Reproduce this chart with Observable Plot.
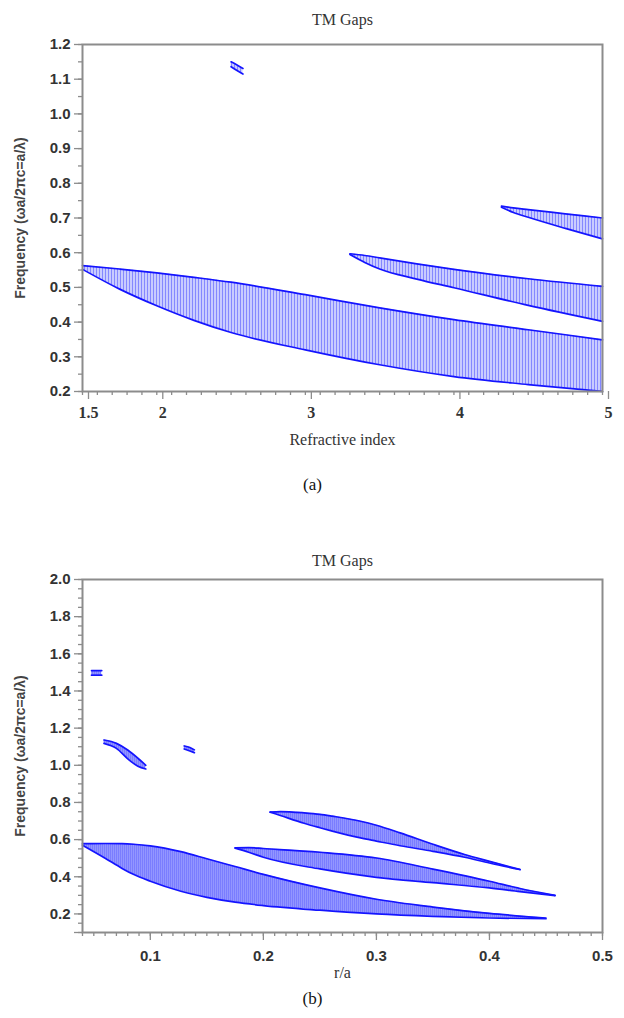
<!DOCTYPE html>
<html>
<head>
<meta charset="utf-8">
<script src="https://cdn.jsdelivr.net/npm/d3@7"></script>
<script src="https://cdn.jsdelivr.net/npm/@observablehq/plot@0.6"></script>
<style>
  html, body { margin: 0; padding: 0; background: #fff; }
  #wrap { width: 624px; }
  svg { display: block; }
</style>
</head>
<body>
<div id="wrap"></div>
<script>
// ---------- Chart (a): TM gaps vs refractive index ----------
const aTitle = "TM Gaps";
const aXLabel = "Refractive index";
const yLabel = "Frequency (\u03c9a/2\u03c0c=a/\u03bb)";
const aCaption = "(a)";
const aXTicks = [1.5, 2, 3, 4, 5];
const aYTicks = [0.2, 0.3, 0.4, 0.5, 0.6, 0.7, 0.8, 0.9, 1.0, 1.1, 1.2];

const aBand1X     = [1.5, 1.75, 2, 2.25, 2.5, 3, 3.5, 4, 4.5, 5];
const aBand1Upper = [0.563, 0.553, 0.542, 0.529, 0.515, 0.479, 0.441, 0.407, 0.378, 0.349];
const aBand1Lower = [0.552, 0.495, 0.447, 0.405, 0.370, 0.320, 0.277, 0.243, 0.220, 0.200];

const aBand2X     = [3.3, 3.4, 3.5, 3.75, 4, 4.5, 5];
const aBand2Upper = [0.597, 0.592, 0.585, 0.568, 0.552, 0.525, 0.503];
const aBand2Lower = [0.595, 0.572, 0.553, 0.524, 0.499, 0.448, 0.402];

const aBand3X     = [4.32, 4.4, 4.5, 4.75, 5];
const aBand3Upper = [0.734, 0.729, 0.724, 0.712, 0.700];
const aBand3Lower = [0.731, 0.716, 0.702, 0.670, 0.640];

const aBand4X     = [2.50, 2.54, 2.58];
const aBand4Upper = [1.150, 1.141, 1.131];
const aBand4Lower = [1.136, 1.125, 1.115];

// ---------- Chart (b): TM gaps vs r/a ----------
const bTitle = "TM Gaps";
const bXLabel = "r/a";
const bCaption = "(b)";
const bXTicks = [0.1, 0.2, 0.3, 0.4, 0.5];
const bYTicks = [0.2, 0.4, 0.6, 0.8, 1.0, 1.2, 1.4, 1.6, 1.8, 2.0];

const bBand1X     = [0.04, 0.06, 0.075, 0.085, 0.1, 0.127, 0.15, 0.175, 0.2, 0.25, 0.3, 0.35, 0.4, 0.45];
const bBand1Upper = [0.578, 0.579, 0.578, 0.575, 0.566, 0.535, 0.497, 0.455, 0.413, 0.340, 0.279, 0.237, 0.203, 0.178];
const bBand1Lower = [0.570, 0.500, 0.445, 0.413, 0.376, 0.322, 0.289, 0.263, 0.245, 0.220, 0.200, 0.187, 0.178, 0.174];

const bBand2X     = [0.175, 0.187, 0.2, 0.25, 0.3, 0.35, 0.4, 0.427, 0.458];
const bBand2Upper = [0.556, 0.557, 0.552, 0.532, 0.501, 0.441, 0.376, 0.337, 0.300];
const bBand2Lower = [0.554, 0.532, 0.505, 0.442, 0.397, 0.368, 0.340, 0.320, 0.298];

const bBand3X     = [0.206, 0.215, 0.236, 0.25, 0.261, 0.286, 0.3, 0.321, 0.35, 0.378, 0.4, 0.427];
const bBand3Upper = [0.748, 0.751, 0.744, 0.736, 0.726, 0.699, 0.677, 0.636, 0.575, 0.520, 0.483, 0.439];
const bBand3Lower = [0.748, 0.730, 0.688, 0.664, 0.646, 0.609, 0.592, 0.567, 0.537, 0.505, 0.474, 0.439];

const bBand4X     = [0.048, 0.057];
const bBand4Upper = [1.510, 1.510];
const bBand4Lower = [1.485, 1.485];

const bBand5X     = [0.059, 0.07, 0.08, 0.089, 0.096];
const bBand5Upper = [1.136, 1.118, 1.082, 1.038, 1.000];
const bBand5Lower = [1.118, 1.091, 1.035, 0.995, 0.980];

const bBand6X     = [0.130, 0.135, 0.139];
const bBand6Upper = [1.104, 1.096, 1.083];
const bBand6Lower = [1.088, 1.077, 1.068];

const sans = "'Liberation Sans', Arial, sans-serif";
const serif = "'Liberation Serif', 'Times New Roman', serif";
const edge = "#1414ff";
const frameGrey = "#8c8c8c";
const textCol = "#333";

function range(a, b, step) {
  const out = [];
  const n = Math.round((b - a) / step);
  for (let i = 0; i <= n; i++) out.push(+(a + i * step).toFixed(4));
  return out;
}

function bandMarks(xs, up, lo, pat) {
  return [
    Plot.areaY(xs, {x: xs, y1: lo, y2: up, fill: `url(#${pat})`, curve: "monotone-x"}),
    Plot.line(xs, {x: xs, y: up, stroke: edge, strokeWidth: 1.7, curve: "monotone-x"}),
    Plot.line(xs, {x: xs, y: lo, stroke: edge, strokeWidth: 1.7, curve: "monotone-x"})
  ];
}

function addPattern(svg, id, bg, line, w) {
  const ns = "http://www.w3.org/2000/svg";
  const defs = document.createElementNS(ns, "defs");
  const p = document.createElementNS(ns, "pattern");
  p.setAttribute("id", id);
  p.setAttribute("patternUnits", "userSpaceOnUse");
  p.setAttribute("width", w);
  p.setAttribute("height", 10);
  const r1 = document.createElementNS(ns, "rect");
  r1.setAttribute("width", w); r1.setAttribute("height", 10); r1.setAttribute("fill", bg);
  const r2 = document.createElementNS(ns, "rect");
  r2.setAttribute("width", 1); r2.setAttribute("height", 10); r2.setAttribute("fill", line);
  p.appendChild(r1); p.appendChild(r2); defs.appendChild(p);
  svg.insertBefore(defs, svg.firstChild);
}

const chartA = Plot.plot({
  width: 624, height: 500,
  marginLeft: 82, marginRight: 22, marginTop: 44, marginBottom: 109,
  x: {domain: [1.5, 5]},
  y: {domain: [0.2, 1.2]},
  style: {fontFamily: sans, background: "white", color: textCol},
  marks: [
    ...bandMarks(aBand1X, aBand1Upper, aBand1Lower, "hatchA"),
    ...bandMarks(aBand2X, aBand2Upper, aBand2Lower, "hatchA"),
    ...bandMarks(aBand3X, aBand3Upper, aBand3Lower, "hatchA"),
    ...bandMarks(aBand4X, aBand4Upper, aBand4Lower, "hatchA"),
    Plot.axisY({ticks: range(0.2, 1.2, 0.05), tickSize: 4, tickFormat: () => "", stroke: frameGrey, strokeWidth: 1.3, label: null}),
    Plot.axisY({ticks: aYTicks, tickSize: 8, tickPadding: 4, tickFormat: d => d.toFixed(1), stroke: frameGrey, strokeWidth: 1.3, fill: textCol, fontSize: 15, fontWeight: 600, label: null}),
    Plot.axisX({ticks: range(1.5, 5, 0.1), tickSize: 4, tickFormat: () => "", stroke: frameGrey, strokeWidth: 1.3, label: null}),
    Plot.axisX({ticks: aXTicks, tickSize: 8, tickPadding: 7, dx: 6, tickFormat: d => String(d), stroke: frameGrey, strokeWidth: 1.3, fill: textCol, fontSize: 16, fontWeight: 600, fontFamily: serif, label: null}),
    Plot.frame({stroke: frameGrey, strokeWidth: 2}),
    Plot.text([aTitle], {text: d => d, frameAnchor: "top", dy: -31, fontFamily: serif, fontSize: 16, fill: textCol}),
    Plot.text([aXLabel], {text: d => d, frameAnchor: "bottom", dy: 53, fontFamily: serif, fontSize: 16, fill: textCol}),
    Plot.text([aCaption], {text: d => d, frameAnchor: "bottom", dy: 98, dx: -30, fontFamily: serif, fontSize: 17, fill: "#111"}),
    Plot.text([yLabel], {text: d => d, frameAnchor: "left", textAnchor: "middle", dx: -62, rotate: -90, fontSize: 14, fontWeight: 600, fill: "#444"})
  ]
});
addPattern(chartA, "hatchA", "#c9ccff", "#8588ff", 3);

const chartB = Plot.plot({
  width: 624, height: 518,
  marginLeft: 82, marginRight: 22, marginTop: 79, marginBottom: 86,
  x: {domain: [0.04, 0.5]},
  y: {domain: [0.1, 2.0]},
  style: {fontFamily: sans, background: "white", color: textCol},
  marks: [
    ...bandMarks(bBand1X, bBand1Upper, bBand1Lower, "hatchB"),
    ...bandMarks(bBand2X, bBand2Upper, bBand2Lower, "hatchB"),
    ...bandMarks(bBand3X, bBand3Upper, bBand3Lower, "hatchB"),
    ...bandMarks(bBand4X, bBand4Upper, bBand4Lower, "hatchB"),
    ...bandMarks(bBand5X, bBand5Upper, bBand5Lower, "hatchB"),
    ...bandMarks(bBand6X, bBand6Upper, bBand6Lower, "hatchB"),
    Plot.axisY({ticks: range(0.1, 2.0, 0.05), tickSize: 4, tickFormat: () => "", stroke: frameGrey, strokeWidth: 1.3, label: null}),
    Plot.axisY({ticks: [0.1, ...bYTicks], tickSize: 8, tickPadding: 4, tickFormat: d => d === 0.1 ? "" : d.toFixed(1), stroke: frameGrey, strokeWidth: 1.3, fill: textCol, fontSize: 15, fontWeight: 600, label: null}),
    Plot.axisX({ticks: range(0.04, 0.5, 0.01), tickSize: 4, tickFormat: () => "", stroke: frameGrey, strokeWidth: 1.3, label: null}),
    Plot.axisX({ticks: bXTicks, tickSize: 8, tickPadding: 10, tickFormat: d => d.toFixed(1), stroke: frameGrey, strokeWidth: 1.3, fill: textCol, fontSize: 15, fontWeight: 600, label: null}),
    Plot.frame({stroke: frameGrey, strokeWidth: 2}),
    Plot.text([bTitle], {text: d => d, frameAnchor: "top", dy: -25, fontFamily: serif, fontSize: 16, fill: textCol}),
    Plot.text([bXLabel], {text: d => d, frameAnchor: "bottom", dy: 45, fontFamily: serif, fontSize: 16, fill: textCol}),
    Plot.text([bCaption], {text: d => d, frameAnchor: "bottom", dy: 71, dx: -30, fontFamily: serif, fontSize: 17, fill: "#111"}),
    Plot.text([yLabel], {text: d => d, frameAnchor: "left", textAnchor: "middle", dx: -62, rotate: -90, fontSize: 14, fontWeight: 600, fill: "#444"})
  ]
});
addPattern(chartB, "hatchB", "#9396ff", "#7a7dff", 2);

const wrap = document.getElementById("wrap");
wrap.appendChild(chartA);
wrap.appendChild(chartB);
</script>
</body>
</html>
